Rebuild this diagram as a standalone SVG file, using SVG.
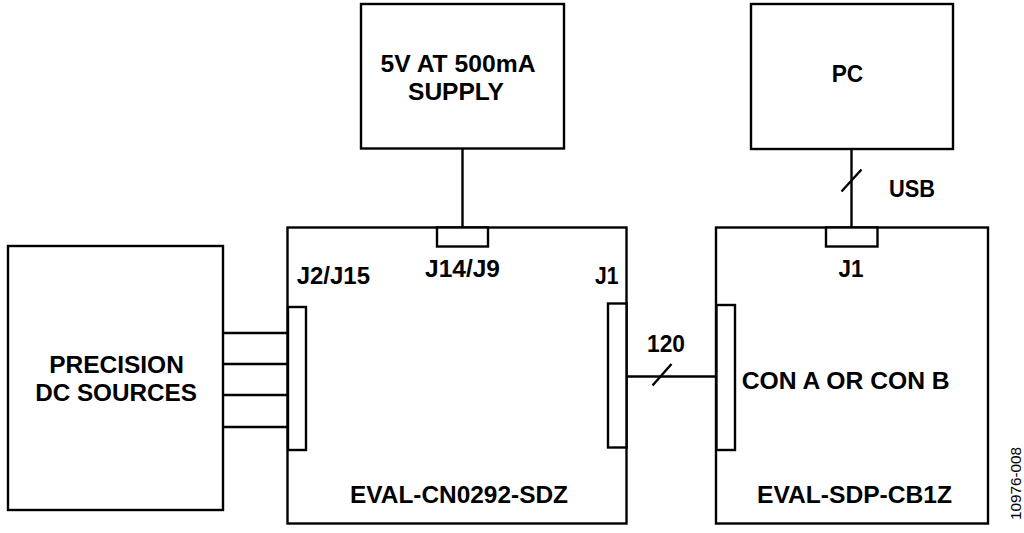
<svg xmlns="http://www.w3.org/2000/svg" width="1024" height="533" viewBox="0 0 1024 533">
<style>
.box{fill:#fff;stroke:#000;stroke-width:2.4}
.conn{fill:#fff;stroke:#000;stroke-width:2.4}
.wire{fill:none;stroke:#000;stroke-width:2.4}
.t{font-family:"Liberation Sans",Arial,sans-serif;font-weight:bold;font-size:24px;fill:#000}
.m{text-anchor:middle}
.fig{font-family:"Liberation Sans",Arial,sans-serif;font-size:14px;fill:#000}
</style>
<rect width="1024" height="533" fill="#fff"/>
<g id="connectors">
<path class="wire" d="M462.5,148.5V227.5"/>
<path class="wire" d="M851.5,149V227.5"/>
<path class="wire" d="M841.5,191.5L861.5,169.5"/>
<path class="wire" d="M626.5,376.5H716"/>
<path class="wire" d="M652.5,385.5L671.5,364"/>
<path class="wire" d="M223,333H288M223,364H288M223,395H288M223,427H288"/>
<text class="t m" x="666" y="352" textLength="38" lengthAdjust="spacingAndGlyphs">120</text>
<text class="t" x="889" y="197" textLength="46" lengthAdjust="spacingAndGlyphs">USB</text>
</g>
<g id="precision">
<rect class="box" x="8" y="246" width="215" height="264"/>
<text class="t m" x="116.5" y="373" textLength="134.7" lengthAdjust="spacingAndGlyphs">PRECISION</text>
<text class="t m" x="116" y="401" textLength="161.7" lengthAdjust="spacingAndGlyphs">DC SOURCES</text>
</g>
<g id="supply">
<rect class="box" x="361" y="4" width="203" height="144.5"/>
<text class="t m" x="458" y="72" textLength="155" lengthAdjust="spacingAndGlyphs">5V AT 500mA</text>
<text class="t m" x="456" y="100" textLength="96" lengthAdjust="spacingAndGlyphs">SUPPLY</text>
</g>
<g id="pc">
<rect class="box" x="751" y="4" width="202" height="145"/>
<text class="t m" x="847.5" y="82" textLength="31.6" lengthAdjust="spacingAndGlyphs">PC</text>
</g>
<g id="cn0292">
<rect class="box" x="287.5" y="227.5" width="339" height="296"/>
<rect class="conn" x="437" y="227.5" width="51" height="19"/>
<rect class="conn" x="288" y="307" width="18" height="143"/>
<rect class="conn" x="608" y="303.5" width="18.5" height="144"/>
<text class="t m" x="462.5" y="277" textLength="75" lengthAdjust="spacingAndGlyphs">J14/J9</text>
<text class="t" x="296.7" y="284" textLength="73.3" lengthAdjust="spacingAndGlyphs">J2/J15</text>
<text class="t" x="618.5" y="284" text-anchor="end" textLength="23.5" lengthAdjust="spacingAndGlyphs">J1</text>
<text class="t m" x="459" y="503" textLength="218" lengthAdjust="spacingAndGlyphs">EVAL-CN0292-SDZ</text>
</g>
<g id="sdp">
<rect class="box" x="716" y="227.5" width="272" height="296"/>
<rect class="conn" x="826" y="227.5" width="51.5" height="19"/>
<rect class="conn" x="716.5" y="305" width="18.5" height="145"/>
<text class="t m" x="851" y="277" textLength="25" lengthAdjust="spacingAndGlyphs">J1</text>
<text class="t" x="741.7" y="389" textLength="208" lengthAdjust="spacingAndGlyphs">CON A OR CON B</text>
<text class="t m" x="854.5" y="503" textLength="195" lengthAdjust="spacingAndGlyphs">EVAL-SDP-CB1Z</text>
</g>
<text class="fig" text-anchor="middle" transform="translate(1021,483.5) rotate(-90)" textLength="73" lengthAdjust="spacingAndGlyphs">10976-008</text>
</svg>
